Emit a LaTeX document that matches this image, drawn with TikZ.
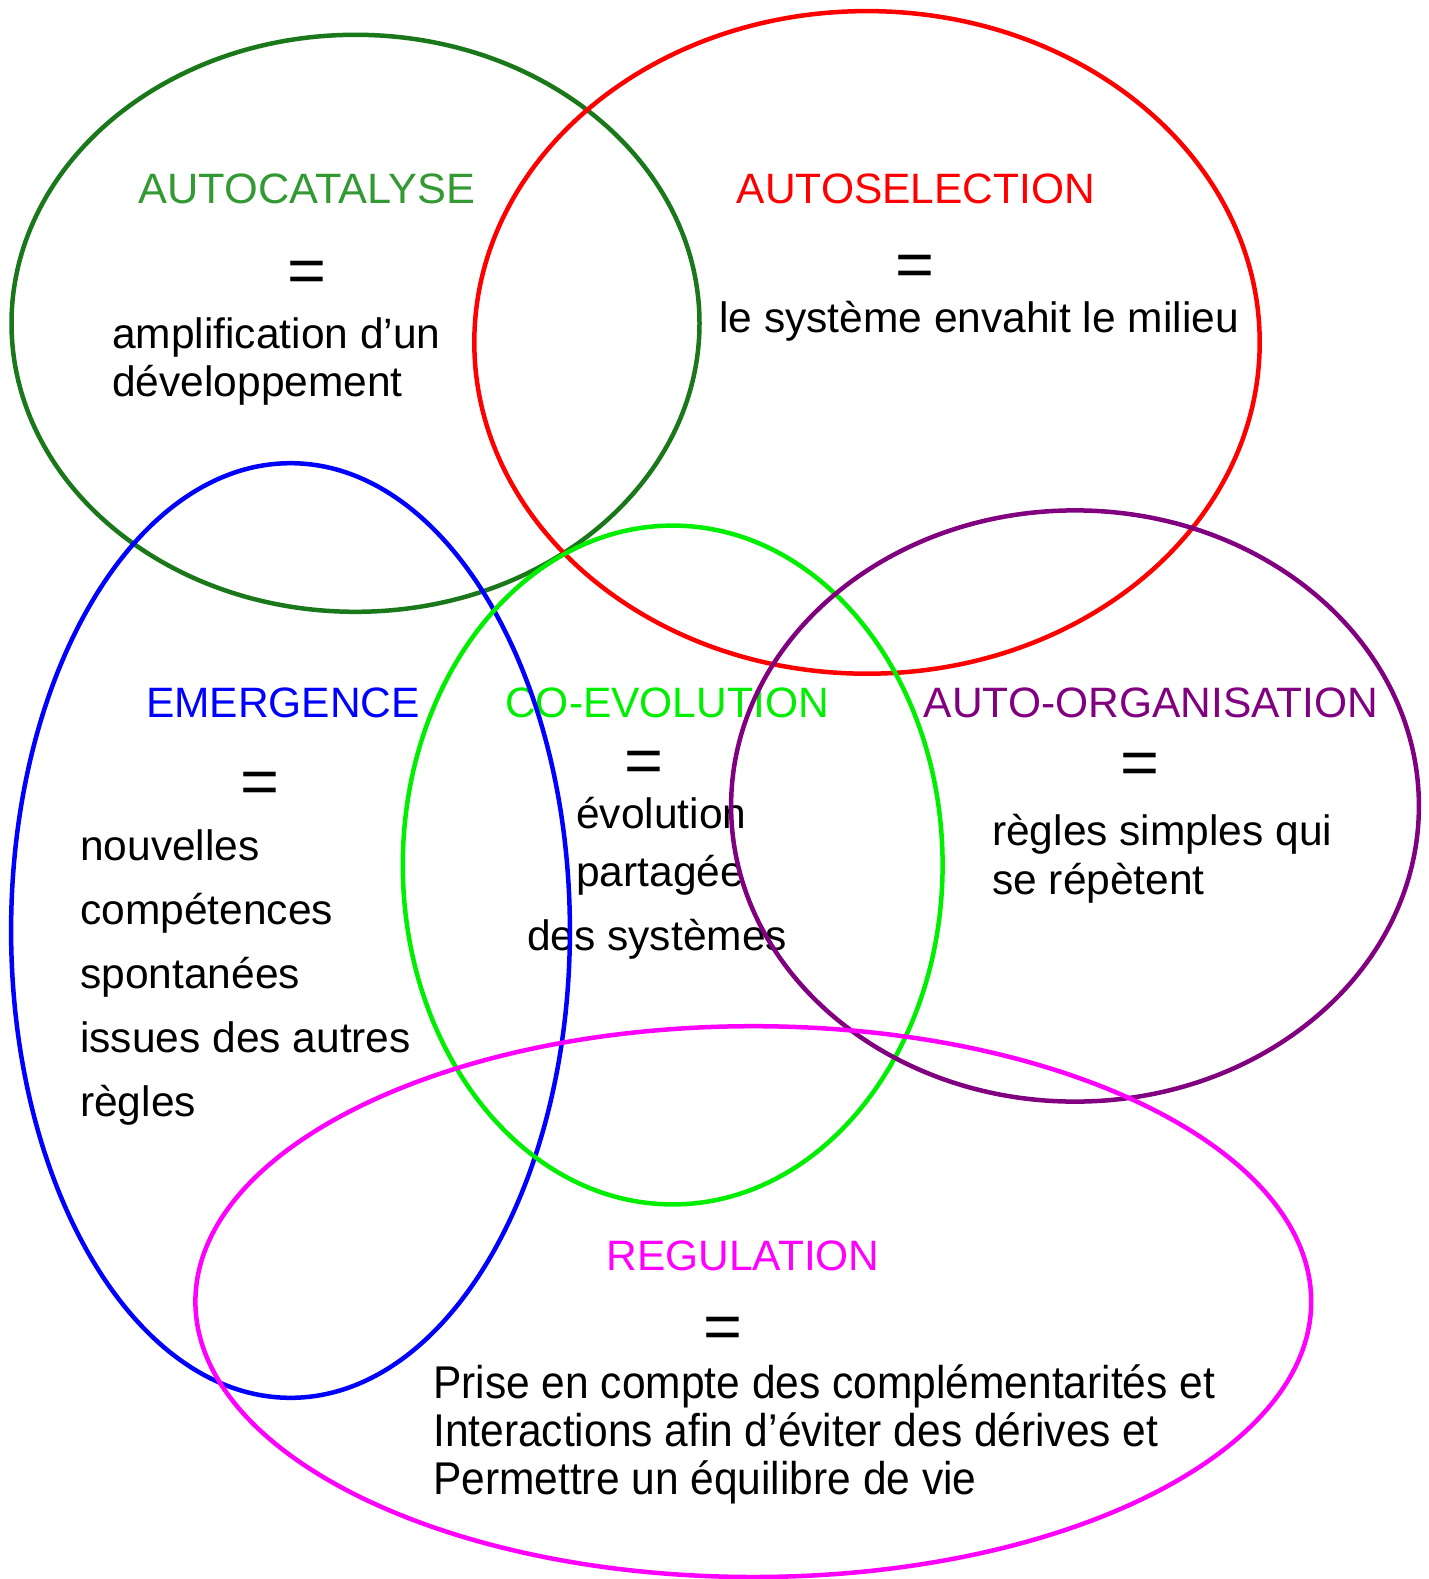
\documentclass[tikz,border=0pt]{standalone}
\usepackage{fontspec}
\setmainfont{Liberation Sans}
\definecolor{dkgreen}{HTML}{1A781A}
\definecolor{txgreen}{HTML}{339933}
\definecolor{brgreen}{HTML}{00EE00}
\definecolor{purp}{HTML}{800080}
\definecolor{magen}{HTML}{FF00FF}
\begin{document}
\begin{tikzpicture}[x=1pt,y=-1pt,
  txt/.style={font=\fontsize{42.5}{49}\selectfont, inner sep=0pt},
  lft/.style={txt, anchor=base west},
  ctr/.style={txt, anchor=base},
  eqs/.style={font=\fontsize{58}{60}\selectfont, inner sep=0pt, anchor=center},
  ring/.style={line width=4.5pt}]
\useasboundingbox (0,0) rectangle (1428,1579);
% AUTOCATALYSE
\node[ctr, text=txgreen] (hA) at (307,203) {\scalebox{1.02}[1]{AUTOCATALYSE}};
\node[eqs] (eA) at (307,277) {\scalebox{1.15}[1.1]{=}};
\node[lft] (tA1) at (112,348) {amplification d’un};
\node[lft] (tA2) at (112,396) {développement};
% AUTOSELECTION
\node[ctr, text=red] (hS) at (916,203) {AUTOSELECTION};
\node[eqs] (eS) at (915,271) {\scalebox{1.15}[1.1]{=}};
\node[lft] (tS1) at (719,332) {le système envahit le milieu};
% EMERGENCE
\node[ctr, text=blue] (hE) at (283,717) {EMERGENCE};
\node[eqs] (eE) at (260,788) {\scalebox{1.15}[1.1]{=}};
\node[lft] (tE1) at (80,860) {nouvelles};
\node[lft] (tE2) at (80,924) {compétences};
\node[lft] (tE3) at (80,988) {spontanées};
\node[lft] (tE4) at (80,1052) {issues des autres};
\node[lft] (tE5) at (80,1116) {règles};
% CO-EVOLUTION
\node[ctr, text=brgreen] (hC) at (667,717) {CO-EVOLUTION};
\node[eqs] (eC) at (644,767) {\scalebox{1.15}[1.1]{=}};
\node[lft] (tC1) at (576,828) {évolution};
\node[lft] (tC2) at (576,886) {partagée};
\node[lft] (tC3) at (527,950) {des systèmes};
% AUTO-ORGANISATION
\node[ctr, text=purp] (hO) at (1151,717) {AUTO-ORGANISATION};
\node[eqs] (eO) at (1140,769) {\scalebox{1.15}[1.1]{=}};
\node[lft] (tO1) at (992,845) {règles simples qui};
\node[lft] (tO2) at (992,894) {se répètent};
% REGULATION
\node[ctr, text=magen] (hR) at (743,1270) {REGULATION};
\node[eqs] (eR) at (723,1333) {\scalebox{1.15}[1.1]{=}};
\node[lft] (tR1) at (433,1398) {\scalebox{1.0}[1.08]{Prise en compte des complémentarités et}};
\node[lft] (tR2) at (433,1446) {\scalebox{1.0}[1.08]{Interactions afin d’éviter des dérives et}};
\node[lft] (tR3) at (433,1494) {\scalebox{1.0}[1.08]{Permettre un équilibre de vie}};
% rings
\draw[ring, dkgreen] (355.5,323.3) ellipse [x radius=344, y radius=288.5];
\draw[ring, red] (867,342.4) ellipse [x radius=392.7, y radius=331.3];
\draw[ring, blue] (290.5,930.5) ellipse [x radius=279.4, y radius=467.3];
\draw[ring, brgreen] (672.7,865) ellipse [x radius=269.9, y radius=339.4];
\draw[ring, purp] (1075,806) ellipse [x radius=343.9, y radius=295.6];
\draw[ring, magen] (753.3,1301.6) ellipse [x radius=557.9, y radius=275.4];
\end{tikzpicture}
\end{document}
